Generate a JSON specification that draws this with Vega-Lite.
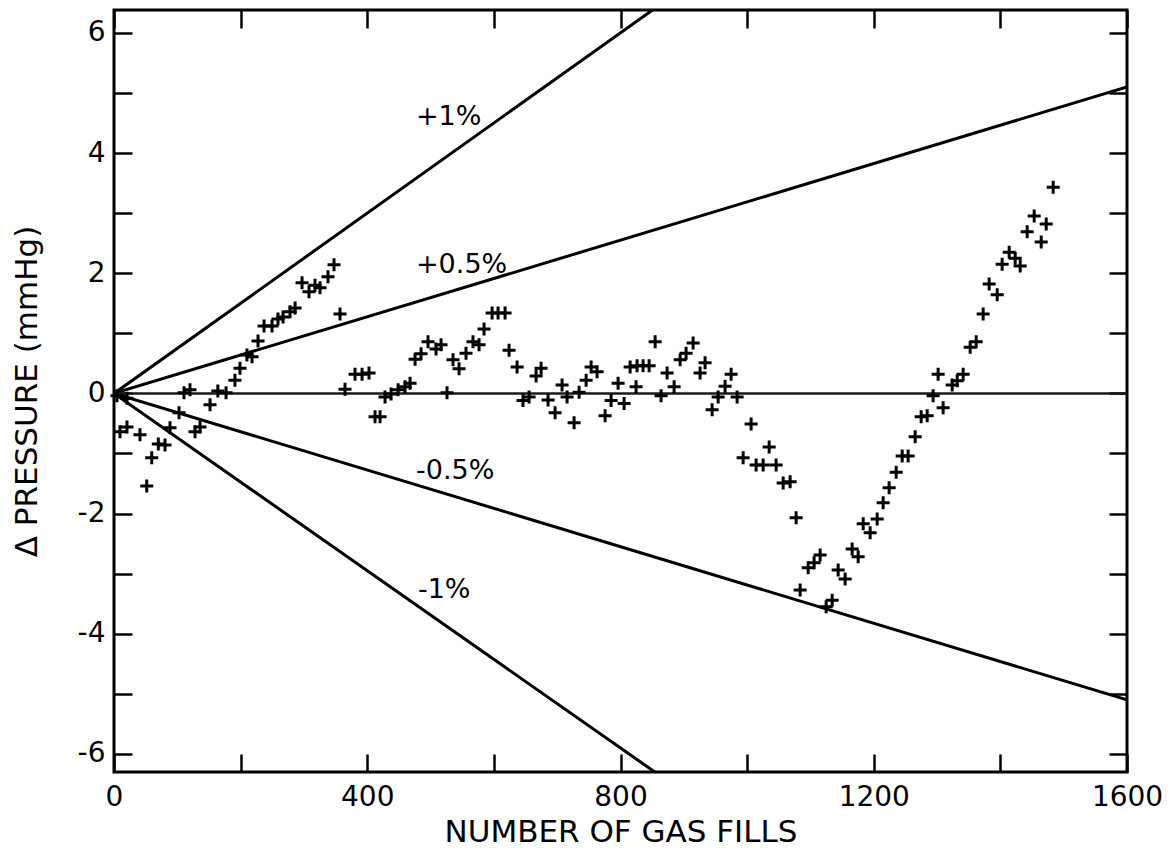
{
  "$schema": "https://vega.github.io/schema/vega-lite/v6.json",
  "width": 1013,
  "height": 762,
  "autosize": {"type": "none"},
  "padding": {"left": 114, "top": 10, "right": 43, "bottom": 80},
  "background": "white",
  "config": {
    "view": {"stroke": "black", "strokeWidth": 3},
    "axis": {
      "domain": false,
      "grid": false,
      "tickSize": -18,
      "tickWidth": 2.5,
      "tickColor": "black",
      "labelFlush": false,
      "labelFont": "DejaVu Sans",
      "labelFontSize": 28,
      "labelColor": "black",
      "titleFont": "DejaVu Sans",
      "titleFontSize": 31,
      "titleFontWeight": "normal",
      "titleColor": "black"
    }
  },
  "datasets": {
    "lines": [
      {"line": "p1", "x": 0, "y": 0}, {"line": "p1", "x": 1600, "y": 12.0},
      {"line": "p05", "x": 0, "y": 0}, {"line": "p05", "x": 1600, "y": 5.1},
      {"line": "m05", "x": 0, "y": 0}, {"line": "m05", "x": 1600, "y": -5.1},
      {"line": "m1", "x": 0, "y": 0}, {"line": "m1", "x": 1600, "y": -11.8}
    ],
    "zero": [{"x": 0, "y": 0}, {"x": 1600, "y": 0}],
    "labels": [
      {"text": "+1%", "x": 477, "y": 4.6},
      {"text": "+0.5%", "x": 477, "y": 2.14},
      {"text": "-0.5%", "x": 477, "y": -1.29},
      {"text": "-1%", "x": 480, "y": -3.27}
    ],
    "points": [
      {"x": 4.7, "y": -0.04}, {"x": 20.5, "y": -0.08},
      {"x": 9.5, "y": -0.64}, {"x": 20.5, "y": -0.56}, {"x": 41, "y": -0.69}, {"x": 51.7, "y": -1.54},
      {"x": 59.6, "y": -1.07}, {"x": 70, "y": -0.84}, {"x": 80.6, "y": -0.86}, {"x": 88.5, "y": -0.57},
      {"x": 102.7, "y": -0.32}, {"x": 110.6, "y": 0.01}, {"x": 120, "y": 0.06}, {"x": 128, "y": -0.64},
      {"x": 135.9, "y": -0.56}, {"x": 151.7, "y": -0.19}, {"x": 164, "y": 0.04}, {"x": 177, "y": 0.01},
      {"x": 191, "y": 0.22}, {"x": 199, "y": 0.42}, {"x": 210, "y": 0.64}, {"x": 218, "y": 0.61},
      {"x": 227.5, "y": 0.87}, {"x": 237, "y": 1.12}, {"x": 249.6, "y": 1.12}, {"x": 259, "y": 1.24},
      {"x": 267, "y": 1.27}, {"x": 278, "y": 1.36}, {"x": 286, "y": 1.42}, {"x": 297, "y": 1.84},
      {"x": 308, "y": 1.69}, {"x": 317.5, "y": 1.8}, {"x": 325.4, "y": 1.76}, {"x": 338, "y": 1.94},
      {"x": 347.5, "y": 2.14}, {"x": 357, "y": 1.32},
      {"x": 364.9, "y": 0.07}, {"x": 380.7, "y": 0.32}, {"x": 391.8, "y": 0.32}, {"x": 402.8, "y": 0.34},
      {"x": 412.3, "y": -0.39}, {"x": 420.2, "y": -0.39}, {"x": 428.1, "y": -0.06}, {"x": 437.6, "y": -0.01},
      {"x": 448.7, "y": 0.06}, {"x": 459.7, "y": 0.11}, {"x": 467.6, "y": 0.17}, {"x": 475.5, "y": 0.57},
      {"x": 485, "y": 0.66}, {"x": 496, "y": 0.86}, {"x": 508.7, "y": 0.74}, {"x": 516.6, "y": 0.81},
      {"x": 526, "y": 0.01}, {"x": 535.5, "y": 0.56}, {"x": 545, "y": 0.41}, {"x": 556, "y": 0.67},
      {"x": 567, "y": 0.86}, {"x": 576.6, "y": 0.81}, {"x": 584.5, "y": 1.07}, {"x": 597.2, "y": 1.34},
      {"x": 606.6, "y": 1.34}, {"x": 617.7, "y": 1.34}, {"x": 624, "y": 0.72}, {"x": 636.7, "y": 0.44},
      {"x": 646, "y": -0.12}, {"x": 655.6, "y": -0.06}, {"x": 666.7, "y": 0.29}, {"x": 674.6, "y": 0.42},
      {"x": 685.6, "y": -0.11}, {"x": 696.7, "y": -0.32}, {"x": 707.7, "y": 0.14}, {"x": 715.6, "y": -0.06},
      {"x": 726.7, "y": -0.49}, {"x": 734.6, "y": 0.02}, {"x": 745.7, "y": 0.22}, {"x": 753.6, "y": 0.44},
      {"x": 763, "y": 0.36}, {"x": 775.7, "y": -0.37}, {"x": 785.1, "y": -0.12}, {"x": 796.2, "y": 0.17},
      {"x": 805.7, "y": -0.17}, {"x": 815.2, "y": 0.44}, {"x": 826.2, "y": 0.46}, {"x": 835.7, "y": 0.46},
      {"x": 845.2, "y": 0.46}, {"x": 824.6, "y": 0.11}, {"x": 854.7, "y": 0.86}, {"x": 864.1, "y": -0.04},
      {"x": 873.6, "y": 0.34}, {"x": 884.7, "y": 0.11}, {"x": 894.2, "y": 0.56}, {"x": 903.6, "y": 0.67},
      {"x": 914.7, "y": 0.84}, {"x": 925.7, "y": 0.34}, {"x": 933.6, "y": 0.51}, {"x": 944.7, "y": -0.27},
      {"x": 954.2, "y": -0.06}, {"x": 965.2, "y": 0.12}, {"x": 974.7, "y": 0.32}, {"x": 984.2, "y": -0.06},
      {"x": 993.7, "y": -1.07}, {"x": 1006.3, "y": -0.51}, {"x": 1014.2, "y": -1.19}, {"x": 1025.3, "y": -1.19},
      {"x": 1034.8, "y": -0.89}, {"x": 1045.8, "y": -1.19}, {"x": 1056.9, "y": -1.49}, {"x": 1067.9, "y": -1.47},
      {"x": 1077.4, "y": -2.07}, {"x": 1083.7, "y": -3.27}, {"x": 1096.4, "y": -2.9}, {"x": 1105.8, "y": -2.82},
      {"x": 1115.3, "y": -2.69}, {"x": 1124.8, "y": -3.55}, {"x": 1134.3, "y": -3.44}, {"x": 1143.8, "y": -2.94},
      {"x": 1154.8, "y": -3.09}, {"x": 1165.9, "y": -2.59}, {"x": 1175.4, "y": -2.72}, {"x": 1183.3, "y": -2.17},
      {"x": 1194.3, "y": -2.32}, {"x": 1205.4, "y": -2.09}, {"x": 1214.8, "y": -1.82}, {"x": 1224.3, "y": -1.57},
      {"x": 1235.4, "y": -1.31}, {"x": 1244.9, "y": -1.04}, {"x": 1254.3, "y": -1.04}, {"x": 1265.4, "y": -0.72},
      {"x": 1274.9, "y": -0.39}, {"x": 1284.4, "y": -0.37}, {"x": 1293.8, "y": -0.04}, {"x": 1301.7, "y": 0.32},
      {"x": 1309.6, "y": -0.24}, {"x": 1323.9, "y": 0.14}, {"x": 1331.8, "y": 0.21}, {"x": 1341.2, "y": 0.32},
      {"x": 1352.3, "y": 0.77}, {"x": 1361.8, "y": 0.86}, {"x": 1372.8, "y": 1.32}, {"x": 1382.3, "y": 1.82},
      {"x": 1395, "y": 1.64}, {"x": 1402.8, "y": 2.15}, {"x": 1413.9, "y": 2.35}, {"x": 1423.4, "y": 2.25},
      {"x": 1431.3, "y": 2.12}, {"x": 1442.3, "y": 2.69}, {"x": 1453.4, "y": 2.95}, {"x": 1464.5, "y": 2.52},
      {"x": 1472.4, "y": 2.82}, {"x": 1483.4, "y": 3.43}
    ]
  },
  "layer": [
    {
      "data": {"name": "lines"},
      "mark": {"type": "line", "stroke": "black", "strokeWidth": 3, "clip": true},
      "encoding": {
        "x": {"field": "x", "type": "quantitative", "scale": {"domain": [0, 1600], "nice": false, "zero": false},
              "axis": {"orient": "top", "labels": false, "title": null, "values": [0, 200, 400, 600, 800, 1000, 1200, 1400, 1600]}},
        "y": {"field": "y", "type": "quantitative", "scale": {"domain": [-6.3, 6.38], "nice": false, "zero": false},
              "axis": {"orient": "right", "labels": false, "title": null, "values": [-6, -5, -4, -3, -2, -1, 0, 1, 2, 3, 4, 5, 6]}},
        "detail": {"field": "line"}
      }
    },
    {
      "data": {"name": "zero"},
      "mark": {"type": "line", "stroke": "#1a1a1a", "strokeWidth": 2.5, "clip": true},
      "encoding": {
        "x": {"field": "x", "type": "quantitative", "axis": null},
        "y": {"field": "y", "type": "quantitative", "axis": null}
      }
    },
    {
      "data": {"name": "points"},
      "mark": {"type": "point", "shape": "M-1,0H1M0,-1V1", "size": 169, "stroke": "black", "strokeWidth": 3, "filled": false, "opacity": 1},
      "encoding": {
        "x": {"field": "x", "type": "quantitative",
              "axis": {"orient": "bottom", "title": "NUMBER OF GAS FILLS", "values": [0, 200, 400, 600, 800, 1000, 1200, 1400, 1600],
                       "format": "d", "labelExpr": "datum.value % 400 === 0 ? datum.label : ''", "labelPadding": 29, "titlePadding": 6}},
        "y": {"field": "y", "type": "quantitative",
              "axis": {"orient": "left", "title": "Δ PRESSURE (mmHg)", "values": [-6, -5, -4, -3, -2, -1, 0, 1, 2, 3, 4, 5, 6],
                       "labelExpr": "datum.value % 2 === 0 ? (datum.value < 0 ? '-' + abs(datum.value) : '' + datum.value) : ''",
                       "labelPadding": 27, "titlePadding": 34}}
      }
    },
    {
      "data": {"name": "labels"},
      "mark": {"type": "text", "align": "left", "baseline": "middle", "font": "DejaVu Sans", "fontSize": 27, "color": "black"},
      "encoding": {
        "x": {"field": "x", "type": "quantitative", "axis": null},
        "y": {"field": "y", "type": "quantitative", "axis": null},
        "text": {"field": "text"}
      }
    }
  ],
  "resolve": {"axis": {"x": "independent", "y": "independent"}}
}
